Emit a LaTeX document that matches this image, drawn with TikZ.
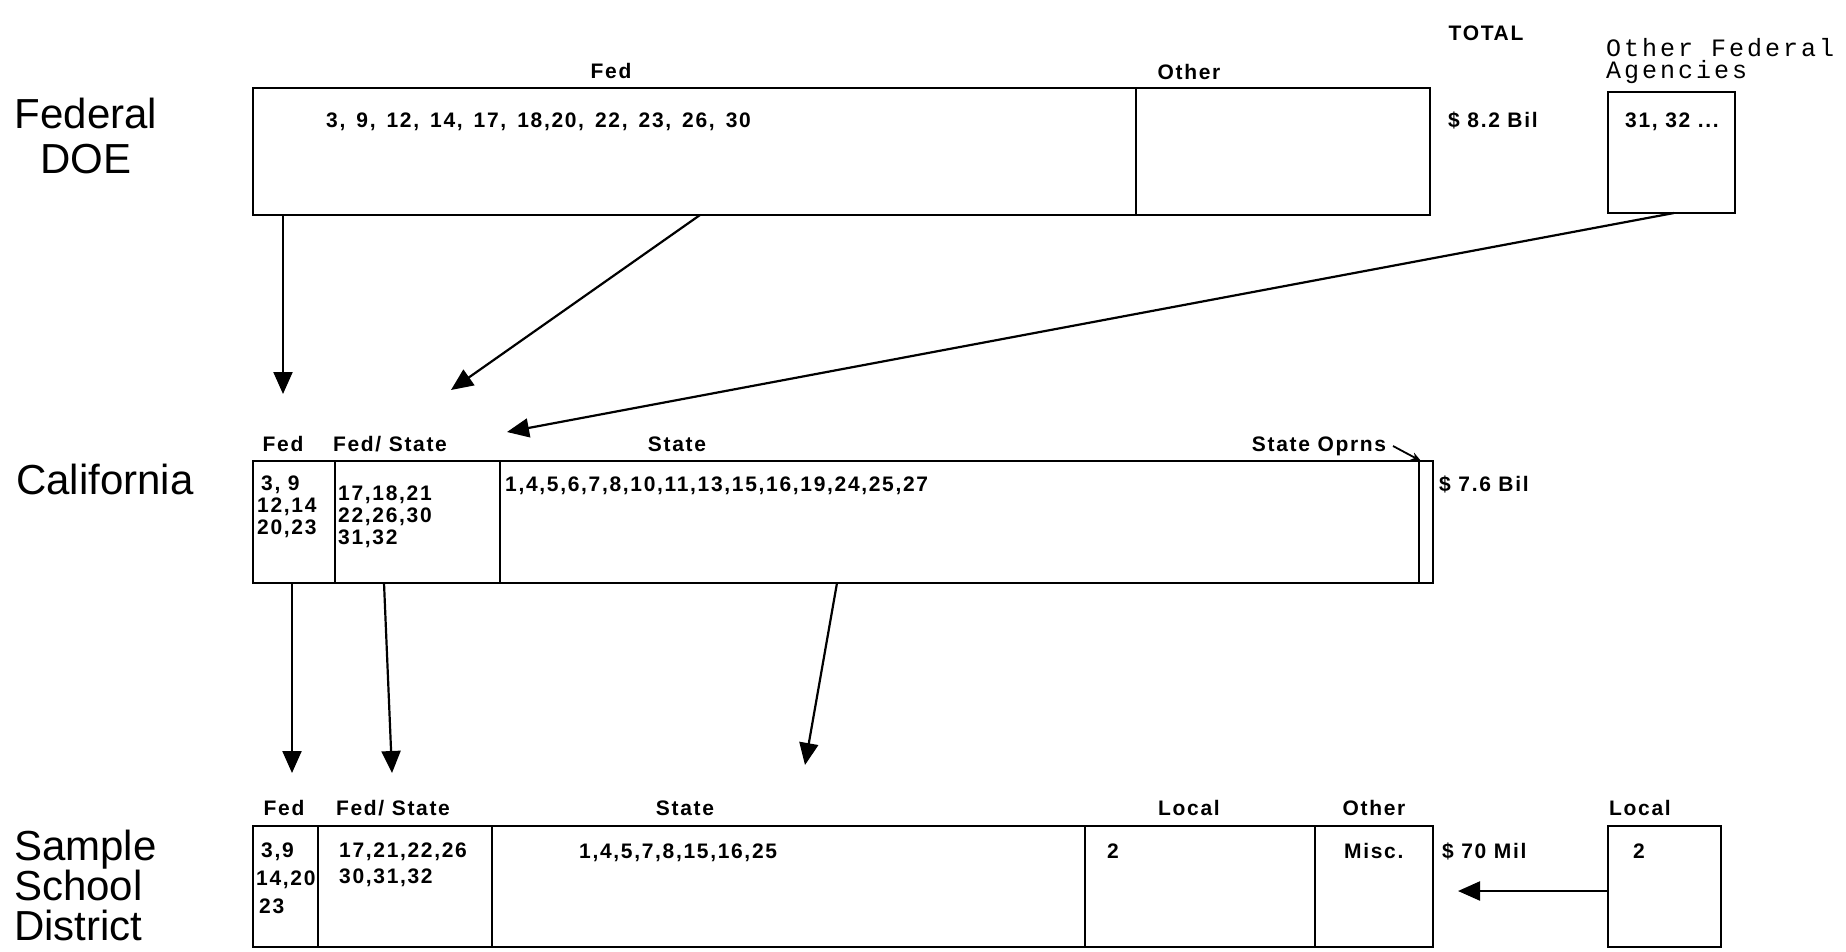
\documentclass[tikz,border=0pt]{standalone}
\usepackage{fontspec}
\setmainfont{Liberation Sans}
\newfontfamily\labfont[LetterSpace=8]{Liberation Sans}
\newfontfamily\twfont[LetterSpace=12]{Liberation Mono}
\usetikzlibrary{arrows.meta}
\newcommand{\wsp}{\hspace{3.5pt} }
\begin{document}
\begin{tikzpicture}[x=1pt,y=-1pt,
  box/.style={draw, line width=2.6pt, rectangle, inner sep=0pt, outer sep=0pt, anchor=north west},
  divider/.style={line width=2.6pt},
  lab/.style={font=\labfont\bfseries\fontsize{21}{24}\selectfont, inner sep=0pt, anchor=base},
  num/.style={font=\labfont\bfseries\fontsize{21}{24}\selectfont, inner sep=0pt, anchor=base west},
  numcol/.style={font=\labfont\bfseries\fontsize{21}{#1}\selectfont, inner sep=0pt, anchor=north west, align=left},
  big/.style={font=\fontsize{42}{45}\selectfont, inner sep=0pt},
  tw/.style={font=\twfont\fontsize{25}{22}\selectfont, inner sep=0pt, anchor=north west, align=left},
  arr/.style={-{Triangle[length=22pt,width=19pt]}, line width=2.2pt},
  smallarr/.style={-{Stealth[length=10pt,width=8pt]}, line width=1.8pt}
]
\useasboundingbox (0,0) rectangle (1846,951);

% ---------- Row 1: Federal DOE ----------
\node[big, align=center] (fedlab) at (86,136) {Federal\\DOE};
\node[box, minimum width=1177pt, minimum height=127pt] (doe) at (253,88) {};
\draw[divider] ([xshift=883pt]doe.north west) -- ([xshift=883pt]doe.south west);
\node[lab] (doefed) at (611,78) {Fed};
\node[lab] (doeoth) at (1189,79) {Other};
\node[num] (doenum) at (326,127) {3,\wsp9,\wsp12,\wsp14,\wsp17,\wsp18,20,\wsp22,\wsp23,\wsp26,\wsp30};
\node[lab] (total) at (1486,40) {TOTAL};
\node[num] (doetot) at (1448,127) {\$ 8.2 Bil};
\node[tw] (ofalab) at (1606,38) {Other Federal\\Agencies};
\node[box, minimum width=127pt, minimum height=121pt] (ofa) at (1608,92) {};
\node[num] (ofanum) at (1625,127) {31, 32 ...};

% ---------- Row 2: California ----------
\node[big] (callab) at (105,479) {California};
\node[lab] (calfed) at (283,451) {Fed};
\node[lab] (calfs) at (390,451) {Fed/ State};
\node[lab] (calst) at (677,451) {State};
\node[lab] (calop) at (1319,451) {State Oprns};
\node[box, minimum width=1180pt, minimum height=122pt] (cal) at (253,461) {};
\draw[divider] ([xshift=82pt]cal.north west) -- ([xshift=82pt]cal.south west);
\draw[divider] ([xshift=247pt]cal.north west) -- ([xshift=247pt]cal.south west);
\draw[divider] ([xshift=1166pt]cal.north west) -- ([xshift=1166pt]cal.south west);
\node[numcol=22] (calc1) at (257,476) {\hspace{4pt}3, 9\\12,14\\20,23};
\node[numcol=22] (calc2) at (338,486) {17,18,21\\22,26,30\\31,32};
\node[num] (calc3) at (505,491) {1,4,5,6,7,8,10,11,13,15,16,19,24,25,27};
\node[num] (caltot) at (1439,491) {\$ 7.6 Bil};

% ---------- Row 3: Sample School District ----------
\node[big, align=left, anchor=west, font=\fontsize{42}{40}\selectfont] (ssdlab) at (14,885) {Sample\\School\\District};
\node[lab] (ssdfed) at (284,815) {Fed};
\node[lab] (ssdfs) at (393,815) {Fed/ State};
\node[lab] (ssdst) at (685,815) {State};
\node[lab] (ssdloc) at (1189,815) {Local};
\node[lab] (ssdoth) at (1374,815) {Other};
\node[lab] (loclab) at (1640,815) {Local};
\node[box, minimum width=1180pt, minimum height=121pt] (ssd) at (253,826) {};
\draw[divider] ([xshift=65pt]ssd.north west) -- ([xshift=65pt]ssd.south west);
\draw[divider] ([xshift=239pt]ssd.north west) -- ([xshift=239pt]ssd.south west);
\draw[divider] ([xshift=832pt]ssd.north west) -- ([xshift=832pt]ssd.south west);
\draw[divider] ([xshift=1062pt]ssd.north west) -- ([xshift=1062pt]ssd.south west);
\node[numcol=28] (ssdc1) at (256,843) {\hspace{5pt}3,9\\14,20\\\hspace{3pt}23};
\node[numcol=26] (ssdc2) at (339,843) {17,21,22,26\\30,31,32};
\node[num] (ssdc3) at (579,858) {1,4,5,7,8,15,16,25};
\node[num] (ssdc4) at (1107,858) {2};
\node[num] (ssdc5) at (1344,858) {Misc.};
\node[num] (ssdtot) at (1442,858) {\$ 70 Mil};
\node[box, minimum width=113pt, minimum height=121pt] (loc) at (1608,826) {};
\node[num] (locnum) at (1633,858) {2};

% ---------- Connectors ----------
\coordinate (a1s) at (283,215); \coordinate (a1e) at (283,394);
\coordinate (a2s) at (700,215); \coordinate (a2e) at (451,390);
\coordinate (a3s) at (1674,213); \coordinate (a3e) at (507,432);
\coordinate (b1s) at (292,583); \coordinate (b1e) at (292,773);
\coordinate (b2s) at (384,583); \coordinate (b2e) at (392,773);
\coordinate (b3s) at (837,583); \coordinate (b3e) at (805,765);
\coordinate (c1s) at (1608,891); \coordinate (c1e) at (1458,891);
\coordinate (o1s) at (1393,446); \coordinate (o1e) at (1421,461);
\draw[arr] (a1s) -- (a1e);
\draw[arr] (a2s) -- (a2e);
\draw[arr] (a3s) -- (a3e);
\draw[arr] (b1s) -- (b1e);
\draw[arr] (b2s) -- (b2e);
\draw[arr] (b3s) -- (b3e);
\draw[arr] (c1s) -- (c1e);
\draw[smallarr] (o1s) -- (o1e);
\end{tikzpicture}
\end{document}
